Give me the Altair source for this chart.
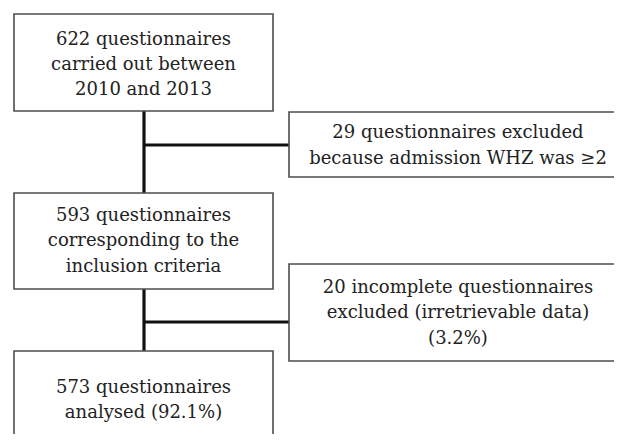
import altair as alt
import pandas as pd

# Box contents (flowchart text)
main_texts = [
    ["622 questionnaires", "carried out between", "2010 and 2013"],
    ["593 questionnaires", "corresponding to the", "inclusion criteria"],
    ["573 questionnaires", "analysed (92.1%)"],
]
side_texts = [
    ["29 questionnaires excluded", "because admission WHZ was \u22652"],
    ["20 incomplete questionnaires", "excluded (irretrievable data)", "(3.2%)"],
]

# Layout (page pixel coordinates)
main_boxes = [(14, 273, 14, 111), (14, 273, 193, 289), (14, 273, 351, 450)]
side_boxes = [(289, 640, 112, 177), (289, 640, 264, 361)]
main_line_y = [[40, 65, 90], [216, 241, 267], [388, 413]]
side_line_y = [[133, 159], [288, 313, 339]]
main_cx = 143.5
side_cx = 458

boxes = pd.DataFrame(
    [dict(x=a, x2=b, y=c, y2=d) for (a, b, c, d) in main_boxes + side_boxes]
)

texts = []
for lines, ys in zip(main_texts, main_line_y):
    for t, y in zip(lines, ys):
        texts.append(dict(x=main_cx, y=y, t=t))
for lines, ys in zip(side_texts, side_line_y):
    for t, y in zip(lines, ys):
        texts.append(dict(x=side_cx, y=y, t=t))
texts = pd.DataFrame(texts)

conn = pd.DataFrame([
    dict(x=144, x2=144, y=111, y2=193),
    dict(x=144, x2=289, y=145, y2=145),
    dict(x=144, x2=144, y=289, y2=351),
    dict(x=144, x2=289, y=322, y2=322),
])

W, H = 606, 426
xs = alt.Scale(domain=[8, 8 + W], range=[0, W])
ys = alt.Scale(domain=[8, 8 + H], range=[0, H])

rects = alt.Chart(boxes).mark_rect(
    fill="white", stroke="#4d4d4d", strokeWidth=1.6, clip=False
).encode(
    x=alt.X("x:Q", scale=xs, axis=None),
    x2="x2:Q",
    y=alt.Y("y:Q", scale=ys, axis=None),
    y2="y2:Q",
)

lines = alt.Chart(conn).mark_rule(color="#111111", strokeWidth=3.2).encode(
    x=alt.X("x:Q", scale=xs, axis=None),
    x2="x2:Q",
    y=alt.Y("y:Q", scale=ys, axis=None),
    y2="y2:Q",
)

labels = alt.Chart(texts).mark_text(
    font="DejaVu Serif", fontSize=18, color="#222222",
    align="center", baseline="middle"
).encode(
    x=alt.X("x:Q", scale=xs, axis=None),
    y=alt.Y("y:Q", scale=ys, axis=None),
    text="t:N",
)

chart = alt.layer(lines, rects, labels).properties(
    width=W, height=H, padding=0, autosize=alt.AutoSizeParams(type="none")
).configure_view(stroke=None)

chart.save("out.html", embed_options={"renderer": "svg", "actions": False})
